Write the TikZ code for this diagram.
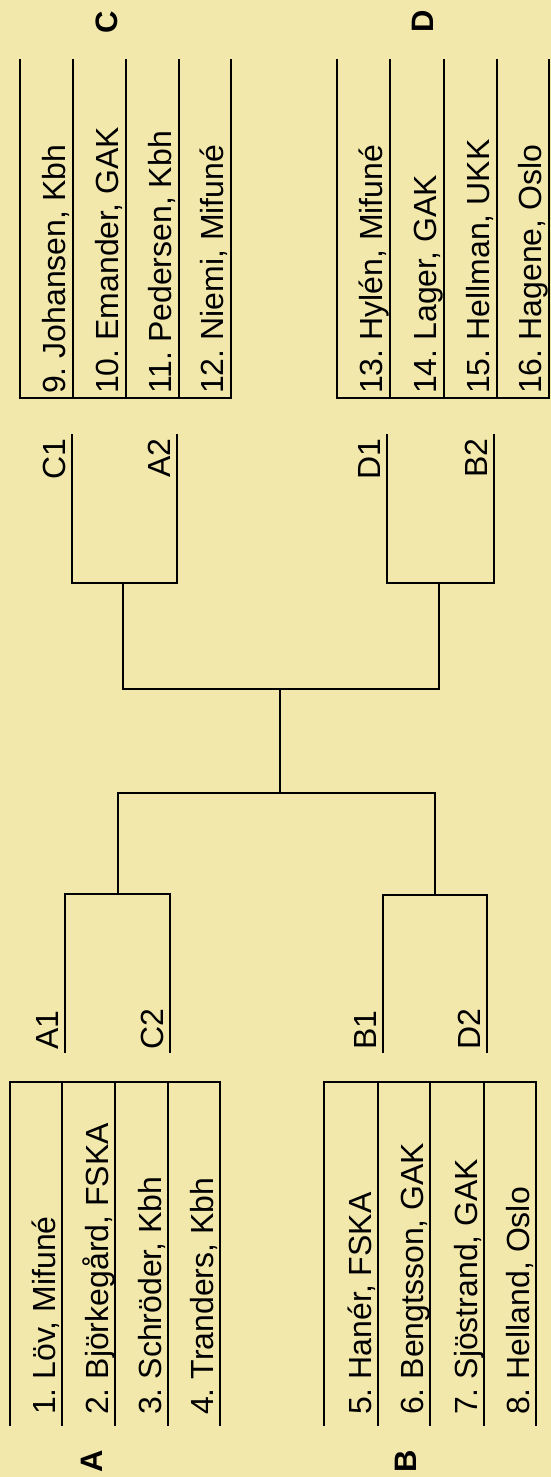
\documentclass[tikz,border=0pt]{standalone}
\usepackage{fontspec}
\setmainfont{Liberation Sans}
\usetikzlibrary{positioning}
\usepackage{xcolor}
\definecolor{paper}{RGB}{243,232,172}

\begin{document}
\frenchspacing
\begin{tikzpicture}[x=1pt, y=-1pt,
  player/.style={rotate=90, anchor=base west, inner sep=0pt,
                 font=\fontsize{32}{38}\selectfont},
  seed/.style={rotate=90, inner sep=0pt, font=\fontsize{32}{38}\selectfont},
  pool/.style={rotate=90, inner sep=0pt, font=\fontsize{31}{36}\selectfont\bfseries},
  rule/.style={line width=1.7pt, line cap=rect}
]

% ===== PAPER =====
\fill[paper] (0,0) rectangle (551,1477);
\useasboundingbox (0,0) rectangle (551,1477);

% ===== POOL TABLES =====
% A and B: closed at the inner end, open at the bottom
\draw[rule] (10,1082) -- (220,1082);
\foreach \x in {10,62,115,168,220}{ \draw[rule] (\x,1082) -- (\x,1425); }
\draw[rule] (324,1082) -- (536,1082);
\foreach \x in {324,378,430,484,536}{ \draw[rule] (\x,1082) -- (\x,1425); }
% C and D: closed at the inner end, open at the top
\draw[rule] (20,398) -- (231,398);
\foreach \x in {20,73,126,179,231}{ \draw[rule] (\x,60) -- (\x,398); }
\draw[rule] (337,398) -- (549,398);
\foreach \x in {337,390,444,497,549}{ \draw[rule] (\x,60) -- (\x,398); }

% ===== PLAYERS =====
\foreach \n/\x/\txt in {1/55/{1. Löv, Mifuné}, 2/108/{2. Björkegård, FSKA},
                        3/161/{3. Schröder, Kbh}, 4/213/{4. Tranders, Kbh},
                        5/371/{5. Hanér, FSKA}, 6/423/{6. Bengtsson, GAK},
                        7/477/{7. Sjöstrand, GAK}, 8/529/{8. Helland, Oslo}}{
  \node[player] (p\n) at (\x,1415) {\txt};
}
\foreach \n/\x/\txt in {9/65/{9. Johansen, Kbh}, 10/118/{10. Emander, GAK},
                        11/171/{11. Pedersen, Kbh}, 12/223/{12. Niemi, Mifuné},
                        13/382/{13. Hylén, Mifuné}, 14/436/{14. Lager, GAK},
                        15/489/{15. Hellman, UKK}, 16/541/{16. Hagene, Oslo}}{
  \node[player] (p\n) at (\x,394) {\txt};
}

% ===== POOL LETTERS =====
\node[pool] (poolA) at (92,1461) {A};
\node[pool] (poolB) at (406,1461) {B};
\node[pool] (poolC) at (107,22) {C};
\node[pool] (poolD) at (423,21) {D};

% ===== SEEDS =====
\node[seed, anchor=base east] (sC1) at (65,438) {C1};
\node[seed, anchor=base east] (sA2) at (170,438) {A2};
\node[seed, anchor=base east] (sD1) at (380,438) {D1};
\node[seed, anchor=base east] (sB2) at (487,438) {B2};
\node[seed, anchor=base west] (sA1) at (58,1050) {A1};
\node[seed, anchor=base west] (sC2) at (163,1050) {C2};
\node[seed, anchor=base west] (sB1) at (376,1050) {B1};
\node[seed, anchor=base west] (sD2) at (480,1050) {D2};

% ===== BRACKET POINTS =====
\coordinate (c1) at (72,435);  \coordinate (a2) at (177,435);
\coordinate (d1) at (387,435); \coordinate (b2) at (494,435);
\coordinate (a1) at (65,1052); \coordinate (c2) at (170,1052);
\coordinate (b1) at (383,1052); \coordinate (d2) at (487,1052);
\coordinate (upL) at (123,583);  \coordinate (upR) at (439,583);
\coordinate (loL) at (118,894);  \coordinate (loR) at (435,895);
\coordinate (fin) at (280,689);  \coordinate (finB) at (280,793);

% ===== QUARTERS =====
\draw[rule] (c1) -- (c1 |- upL) -- (a2 |- upL) -- (a2);
\draw[rule] (d1) -- (d1 |- upR) -- (b2 |- upR) -- (b2);
\draw[rule] (a1) -- (a1 |- loL) -- (c2 |- loL) -- (c2);
\draw[rule] (b1) -- (b1 |- loR) -- (d2 |- loR) -- (d2);

% ===== SEMIS AND FINAL =====
\draw[rule] (upL) -- (upL |- fin) -- (upR |- fin) -- (upR);
\draw[rule] (loL) -- (loL |- finB) -- (loR |- finB) -- (loR);
\draw[rule] (fin) -- (finB);

\end{tikzpicture}
\end{document}
